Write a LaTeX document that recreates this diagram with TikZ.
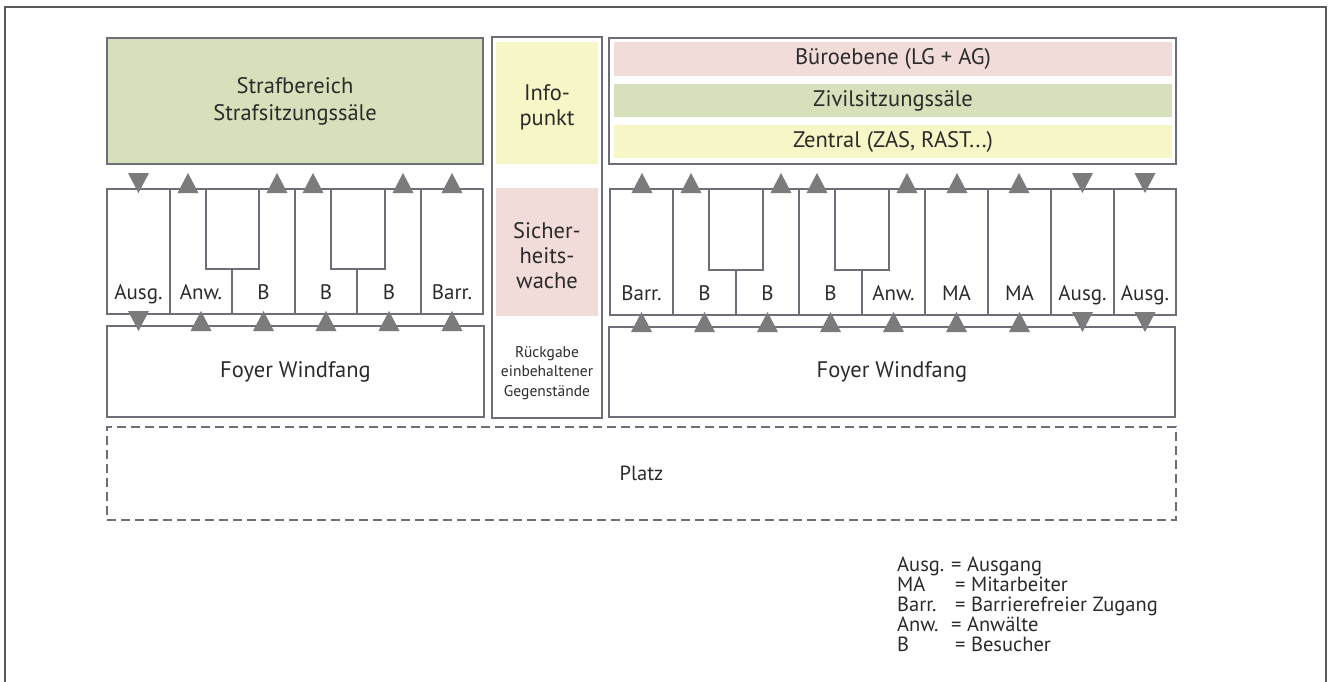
\documentclass[tikz,border=0pt]{standalone}
\usepackage{fontspec}
\setmainfont{PT Sans}
\definecolor{linegray}{HTML}{6D6E78}
\definecolor{framegray}{HTML}{5A5A5A}
\definecolor{trigray}{HTML}{7B7B7B}
\definecolor{txt}{HTML}{2B2B2B}
\definecolor{kgreen}{HTML}{D6E0BA}
\definecolor{kpink}{HTML}{F2DCDA}
\definecolor{kyellow}{HTML}{F7F6C6}
\newcommand\ArrUp[2]{\fill[tri] (#1,#2) ++(-10.5,10) -- ++(21,0) -- ++(-10.5,-20) -- cycle;}
\newcommand\ArrDown[2]{\fill[tri] (#1,#2) ++(-10.5,-10) -- ++(21,0) -- ++(-10.5,20) -- cycle;}
\begin{document}
\begin{tikzpicture}[x=1pt,y=-1pt,
  tri/.style={fill=trigray},
  room/.style={draw=linegray, line width=1.8pt, inner sep=0pt, outer sep=0pt, text=txt, align=center, font=\fontsize{22.5}{27}\selectfont},
  area/.style={fill=#1, draw=none, inner sep=0pt, outer sep=0pt, text=txt, align=center, font=\fontsize{22.5}{27}\selectfont},
  midtext/.style={text=txt, align=center, inner sep=0pt, font=\fontsize{22.5}{25}\selectfont},
  gateline/.style={draw=linegray, line width=1.5pt},
  gatelabel/.style={anchor=base, text=txt, inner sep=0pt, font=\fontsize{21}{25}\selectfont},
  legend/.style={anchor=base west, text=txt, inner sep=0pt, font=\fontsize{20.5}{22}\selectfont}]
\useasboundingbox (0,0) rectangle (1335,682);
% outer frame
\draw[framegray, line width=1.5pt] (5,700) -- (5,7) -- (1326,7) -- (1326,700);

% ---------- left block ----------
\node[room, fill=kgreen, minimum width=376pt, minimum height=126pt] (straf) at (295,101) {Strafbereich\\Strafsitzungssäle};
\node[room, minimum width=376pt, minimum height=125pt] (gatesL) at (295,251.5) {};
\draw[gateline] (170,189) -- (170,314) (295,189) -- (295,314) (421,189) -- (421,314);
\draw[gateline] (206,189) -- (206,269) -- (259,269) -- (259,189) (232,269) -- (232,314);
\draw[gateline] (331,189) -- (331,269) -- (385,269) -- (385,189) (357,269) -- (357,314);
\node[gatelabel] (lg1) at (138.5,299) {Ausg.};
\node[gatelabel] (lg2) at (201,299) {Anw.};
\node[gatelabel] (lg3) at (263.5,299) {B};
\node[gatelabel] (lg4) at (326,299) {B};
\node[gatelabel] (lg5) at (389,299) {B};
\node[gatelabel] (lg6) at (452,299) {Barr.};
\node[room, minimum width=377pt, minimum height=91pt] (foyerL) at (295.5,371.5) {Foyer Windfang};
\ArrDown{138.5}{183}
\ArrUp{188}{183} \ArrUp{277}{183} \ArrUp{313}{183} \ArrUp{403}{183} \ArrUp{452}{183}
\ArrDown{138.5}{321}
\ArrUp{201}{321} \ArrUp{263.5}{321} \ArrUp{326}{321} \ArrUp{389}{321} \ArrUp{452}{321}

% ---------- middle column ----------
\node[room, minimum width=110pt, minimum height=381pt] (mid) at (547,227.5) {};
\node[area=kyellow, minimum width=102pt, minimum height=122pt] (info) at (547,103) {};
\node[midtext] (infotext) at (547,107) {Info-\\punkt};
\node[area=kpink, minimum width=102pt, minimum height=128pt] (sich) at (547,252) {};
\node[midtext] (sichtext) at (547,256) {Sicher-\\heits-\\wache};
\node[text=txt, align=center, inner sep=0pt, font=\fontsize{15.5}{19.5}\selectfont] (rueck) at (547,373) {Rückgabe\\einbehaltener\\Gegenstände};

% ---------- right block ----------
\node[room, minimum width=567pt, minimum height=126pt] (oben) at (892.5,101) {};
\node[area=kpink, minimum width=558pt, minimum height=34pt] (buero) at (893,59) {Büroebene (LG + AG)};
\node[area=kgreen, minimum width=558pt, minimum height=33pt] (zivil) at (893,100.5) {Zivilsitzungssäle};
\node[area=kyellow, minimum width=558pt, minimum height=33pt] (zentral) at (893,141.5) {Zentral (ZAS, RAST...)};
\node[room, minimum width=566pt, minimum height=126pt] (gatesR) at (893,252) {};
\draw[gateline] (673,189) -- (673,315) (799,189) -- (799,315) (925,189) -- (925,315)
  (988,189) -- (988,315) (1051,189) -- (1051,315) (1114,189) -- (1114,315);
\draw[gateline] (709,189) -- (709,270) -- (763,270) -- (763,189) (736,270) -- (736,315);
\draw[gateline] (835,189) -- (835,270) -- (889,270) -- (889,189) (862,270) -- (862,315);
\node[gatelabel] (rg1) at (641.5,300) {Barr.};
\node[gatelabel] (rg2) at (704.5,300) {B};
\node[gatelabel] (rg3) at (767.5,300) {B};
\node[gatelabel] (rg4) at (830.5,300) {B};
\node[gatelabel] (rg5) at (893.5,300) {Anw.};
\node[gatelabel] (rg6) at (956.5,300) {MA};
\node[gatelabel] (rg7) at (1019.5,300) {MA};
\node[gatelabel] (rg8) at (1082.5,300) {Ausg.};
\node[gatelabel] (rg9) at (1145,300) {Ausg.};
\node[room, minimum width=566pt, minimum height=90pt] (foyerR) at (892,372) {Foyer Windfang};
\ArrUp{642}{183} \ArrUp{691}{183} \ArrUp{781}{183} \ArrUp{817}{183} \ArrUp{907}{183}
\ArrUp{957}{183} \ArrUp{1019}{183} \ArrDown{1082.5}{183} \ArrDown{1145}{183}
\ArrUp{641.5}{322} \ArrUp{704.5}{322} \ArrUp{767.5}{322} \ArrUp{830.5}{322} \ArrUp{893.5}{322}
\ArrUp{956.5}{322} \ArrUp{1019.5}{322} \ArrDown{1082.5}{322} \ArrDown{1145}{322}

% ---------- Platz ----------
\node[draw=linegray, line width=1.5pt, dash pattern=on 9pt off 5pt, minimum width=1069pt, minimum height=93pt, inner sep=0pt, text=txt, font=\fontsize{20.5}{24}\selectfont] (platz) at (641.5,473.5) {Platz};

% ---------- legend ----------
\node[legend] (k1) at (897,571) {Ausg.};
\node[legend] (v1) at (951,571) {= Ausgang};
\node[legend] (k2) at (897,591) {MA};
\node[legend] (v2) at (955,591) {= Mitarbeiter};
\node[legend] (k3) at (897,611) {Barr.};
\node[legend] (v3) at (955,611) {= Barrierefreier Zugang};
\node[legend] (k4) at (897,631) {Anw.};
\node[legend] (v4) at (951,631) {= Anwälte};
\node[legend] (k5) at (897,651) {B};
\node[legend] (v5) at (955,651) {= Besucher};
\end{tikzpicture}
\end{document}
